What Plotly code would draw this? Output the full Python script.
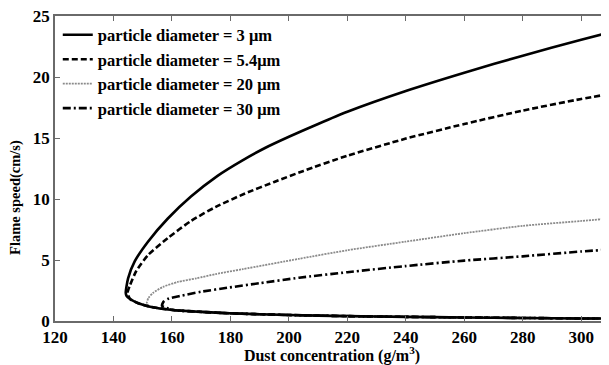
import plotly.graph_objects as go

# Upper branches (from turning point outward)
x_3um = [144.2, 145.0, 147.3, 151.8, 158.6, 166.5, 175.6, 184, 192, 200, 210, 220, 240, 260, 280, 300, 309.5]
y_3um = [2.3, 3.5, 4.9, 6.5, 8.4, 10.2, 11.9, 13.15, 14.2, 15.1, 16.15, 17.15, 18.85, 20.35, 21.75, 23.05, 23.65]

x_5p4um = [144.8, 145.6, 147.8, 151.8, 158.6, 166.5, 175, 185, 195, 205, 220, 240, 260, 280, 300, 309.5]
y_5p4um = [2.3, 2.9, 4.1, 5.4, 6.8, 8.2, 9.35, 10.45, 11.4, 12.3, 13.55, 14.95, 16.15, 17.25, 18.2, 18.6]

x_20um = [151.4, 152.0, 153.5, 157, 162, 168.4, 175, 184.2, 203.5, 220, 239.8, 260, 280, 300, 309.5]
y_20um = [1.45, 1.9, 2.3, 2.8, 3.2, 3.5, 3.85, 4.25, 5.1, 5.8, 6.5, 7.2, 7.8, 8.2, 8.4]

x_30um = [156.6, 157.2, 159, 162.7, 170, 179.7, 190, 203.5, 220, 239.8, 260, 280, 300, 309.5]
y_30um = [1.25, 1.6, 1.85, 2.05, 2.4, 2.75, 3.1, 3.55, 4.0, 4.5, 4.95, 5.3, 5.7, 5.85]

# Shared lower branch
x_lower = [144.5, 145.7, 148.5, 152.5, 160.4, 170, 179.7, 200, 220, 240, 260, 280, 300, 309.5]
y_lower = [2.05, 1.8, 1.45, 1.17, 0.9, 0.75, 0.63, 0.49, 0.4, 0.34, 0.29, 0.25, 0.21, 0.2]

names = ["particle diameter = 3 \u03bcm", "particle diameter = 5.4\u03bcm",
         "particle diameter = 20 \u03bcm", "particle diameter = 30 \u03bcm"]

series = [(x_3um, y_3um), (x_5p4um, y_5p4um), (x_20um, y_20um), (x_30um, y_30um)]
styles = [dict(color="black", width=2.6, dash="solid"),
          dict(color="black", width=2.6, dash="6px,3px"),
          dict(color="#8a8a8a", width=1.8, dash="2px,1px"),
          dict(color="black", width=2.6, dash="8px,3px,2px,3px")]

fig = go.Figure()
# add in reverse so the solid curve is drawn on top; legend order reversed back
for (xu, yu), nm, st in reversed(list(zip(series, names, styles))):
    xs = list(reversed(xu))
    ys = list(reversed(yu))
    for xl, yl in zip(x_lower, y_lower):
        if xl > xu[0]:
            xs.append(xl)
            ys.append(yl)
    fig.add_trace(go.Scatter(x=xs, y=ys, mode="lines", name=nm,
                             line=dict(shape="spline", smoothing=0.6, **st)))

font_family = "Liberation Serif, Times New Roman, serif"
axis_common = dict(showline=True, linecolor="#6a6a6a", linewidth=1.5, mirror="ticks",
                   ticks="inside", ticklen=5, tickcolor="#6a6a6a", showgrid=False,
                   zeroline=False, automargin=False, ticklabeloverflow="allow",
                   tickfont=dict(family=font_family, size=17, color="black", weight="bold"))

# page body has an 8px margin, so the figure is sized to fit the rest of the window
fig.update_layout(
    width=601, height=357,
    margin=dict(l=47, r=0, t=8, b=44),
    paper_bgcolor="white", plot_bgcolor="white",
    showlegend=True,
    legend=dict(x=0.005, y=0.995, xanchor="left", yanchor="top",
                bgcolor="rgba(0,0,0,0)", borderwidth=0, traceorder="reversed",
                font=dict(family=font_family, size=16.5, color="black", weight="bold"),
                itemwidth=30, tracegroupgap=0),
    xaxis=dict(range=[120, 309.5], tickvals=[120, 140, 160, 180, 200, 220, 240, 260, 280, 300],
               title=dict(text="Dust concentration (g/m<sup>3</sup>)", standoff=2,
                          font=dict(family=font_family, size=16, color="black", weight="bold")),
               **axis_common),
    yaxis=dict(range=[0, 25], tickvals=[0, 5, 10, 15, 20, 25], **axis_common),
    annotations=[dict(text="Flame speed(cm/s)", textangle=-90, showarrow=False,
                      xref="paper", yref="paper", x=-0.0713, y=0.405,
                      xanchor="center", yanchor="middle",
                      font=dict(family=font_family, size=14.5, color="black", weight="bold"))],
)

fig.write_html("out.html")
